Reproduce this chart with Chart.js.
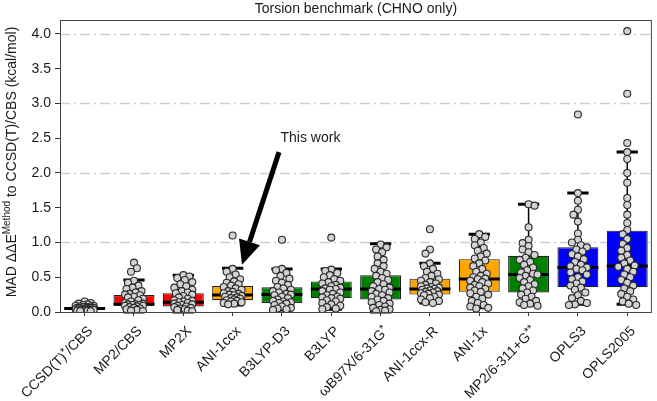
<!DOCTYPE html>
<html>
<head>
<meta charset="utf-8">
<script src="https://cdn.jsdelivr.net/npm/chart.js@4.4.1/dist/chart.umd.min.js"></script>
<style>
  html, body { margin: 0; padding: 0; background: #fff; }
  #wrap { width: 657px; height: 401px; }
</style>
</head>
<body>
<div id="wrap"><canvas id="torsion"></canvas></div>
<script>
// --- data (kcal/mol) ---
const methods = ['CCSD(T)*/CBS', 'MP2/CBS', 'MP2X', 'ANI-1ccx', 'B3LYP-D3', 'B3LYP',
                 'ωB97X/6-31G*', 'ANI-1ccx-R', 'ANI-1x', 'MP2/6-311+G**', 'OPLS3', 'OPLS2005'];
const boxColors = ['#111111', '#ff0000', '#ff0000', '#ffa500', '#008000', '#008000',
                   '#008000', '#ffa500', '#ffa500', '#008000', '#0000ff', '#0000ff'];

const q1        = [0.035, 0.09, 0.08, 0.17, 0.13, 0.20, 0.18, 0.25, 0.29, 0.28, 0.355, 0.355];
const median    = [0.05, 0.11, 0.14, 0.245, 0.25, 0.33, 0.33, 0.33, 0.475, 0.54, 0.64, 0.66];
const q3        = [0.065, 0.245, 0.27, 0.375, 0.355, 0.44, 0.53, 0.48, 0.76, 0.81, 0.93, 1.17];
const whiskerLo = [0.01, 0.0, 0.0, 0.10, 0.03, 0.04, 0.0, 0.13, 0.06, 0.10, 0.11, 0.11];
const whiskerHi = [0.10, 0.46, 0.53, 0.63, 0.62, 0.62, 0.98, 0.70, 1.12, 1.55, 1.71, 2.30];

// individual torsion profiles per method
const ptsCCSD = [0.15, 0.13, 0.12, 0.11, 0.10, 0.09, 0.09, 0.08, 0.08, 0.07, 0.07, 0.06, 0.06, 0.06, 0.05,
                 0.05, 0.05, 0.05, 0.04, 0.04, 0.04, 0.04, 0.03, 0.03, 0.03, 0.02, 0.02, 0.02, 0.01, 0.01];
const ptsMP2CBS = [0.71, 0.63, 0.58, 0.45, 0.42, 0.38, 0.35, 0.33, 0.30, 0.28, 0.26, 0.25, 0.24, 0.22, 0.21,
                   0.19, 0.17, 0.15, 0.13, 0.12, 0.11, 0.11, 0.10, 0.10, 0.09, 0.09, 0.08, 0.07, 0.06, 0.05,
                   0.04, 0.03, 0.02, 0.01];
const ptsMP2X = [0.53, 0.51, 0.49, 0.46, 0.43, 0.40, 0.37, 0.35, 0.32, 0.30, 0.28, 0.27, 0.25, 0.23, 0.21,
                 0.19, 0.17, 0.16, 0.15, 0.14, 0.13, 0.12, 0.11, 0.10, 0.09, 0.08, 0.07, 0.06, 0.05, 0.04,
                 0.03, 0.02, 0.01];
const ptsANI1ccx = [1.10, 0.62, 0.58, 0.54, 0.50, 0.47, 0.44, 0.42, 0.40, 0.38, 0.36, 0.34, 0.32, 0.30, 0.29,
                    0.27, 0.26, 0.25, 0.24, 0.23, 0.22, 0.21, 0.20, 0.19, 0.18, 0.17, 0.16, 0.15, 0.14, 0.13,
                    0.12, 0.11];
const ptsB3LYPD3 = [1.04, 0.62, 0.60, 0.56, 0.52, 0.48, 0.45, 0.42, 0.39, 0.36, 0.34, 0.32, 0.30, 0.28, 0.26,
                    0.25, 0.24, 0.22, 0.20, 0.18, 0.16, 0.15, 0.14, 0.13, 0.12, 0.10, 0.08, 0.06, 0.05, 0.04, 0.03];
const ptsB3LYP = [1.07, 0.61, 0.59, 0.56, 0.53, 0.50, 0.47, 0.45, 0.43, 0.41, 0.39, 0.37, 0.35, 0.34, 0.33,
                  0.32, 0.30, 0.28, 0.26, 0.24, 0.22, 0.21, 0.20, 0.19, 0.17, 0.15, 0.13, 0.11, 0.09, 0.07,
                  0.05, 0.04];
const ptsWB97X = [0.97, 0.93, 0.90, 0.86, 0.80, 0.75, 0.70, 0.66, 0.62, 0.58, 0.55, 0.52, 0.49, 0.46, 0.43,
                  0.40, 0.37, 0.35, 0.33, 0.32, 0.30, 0.28, 0.26, 0.24, 0.22, 0.20, 0.18, 0.16, 0.14, 0.12,
                  0.10, 0.08, 0.06, 0.04, 0.03, 0.02, 0.01];
const ptsANI1ccxR = [1.19, 0.90, 0.84, 0.70, 0.66, 0.62, 0.58, 0.55, 0.52, 0.49, 0.47, 0.45, 0.43, 0.41, 0.39,
                     0.37, 0.36, 0.35, 0.34, 0.33, 0.32, 0.31, 0.30, 0.29, 0.28, 0.27, 0.26, 0.25, 0.24, 0.22,
                     0.20, 0.18, 0.16, 0.14, 0.13];
const ptsANI1x = [1.12, 1.08, 1.05, 1.00, 0.96, 0.92, 0.88, 0.84, 0.80, 0.77, 0.74, 0.70, 0.66, 0.62, 0.58,
                  0.55, 0.52, 0.50, 0.48, 0.47, 0.45, 0.43, 0.41, 0.39, 0.37, 0.35, 0.33, 0.31, 0.29, 0.27,
                  0.25, 0.22, 0.19, 0.16, 0.13, 0.10, 0.08, 0.06, 0.05];
const ptsMP2631 = [1.55, 1.53, 1.22, 1.04, 0.99, 0.95, 0.90, 0.86, 0.82, 0.78, 0.75, 0.72, 0.68, 0.64, 0.60,
                   0.57, 0.55, 0.54, 0.52, 0.49, 0.46, 0.43, 0.40, 0.37, 0.34, 0.31, 0.28, 0.25, 0.22, 0.19,
                   0.16, 0.14, 0.12, 0.10, 0.09];
const ptsOPLS3 = [2.84, 1.71, 1.60, 1.47, 1.40, 1.30, 1.13, 1.04, 1.00, 0.96, 0.93, 0.90, 0.87, 0.83, 0.80,
                  0.76, 0.72, 0.68, 0.66, 0.64, 0.62, 0.60, 0.57, 0.54, 0.50, 0.47, 0.44, 0.41, 0.38, 0.35,
                  0.32, 0.28, 0.24, 0.20, 0.16, 0.13, 0.11, 0.10];
const ptsOPLS2005 = [4.04, 3.14, 2.43, 2.30, 2.20, 2.00, 1.86, 1.64, 1.54, 1.40, 1.28, 1.18, 1.12, 1.05, 0.98,
                     0.92, 0.88, 0.82, 0.78, 0.74, 0.70, 0.67, 0.65, 0.62, 0.58, 0.54, 0.50, 0.46, 0.42, 0.38,
                     0.34, 0.30, 0.26, 0.22, 0.18, 0.15, 0.12, 0.10];

const pointSets = [ptsCCSD, ptsMP2CBS, ptsMP2X, ptsANI1ccx, ptsB3LYPD3, ptsB3LYP,
                   ptsWB97X, ptsANI1ccxR, ptsANI1x, ptsMP2631, ptsOPLS3, ptsOPLS2005];
const yTicks = [0.0, 0.5, 1.0, 1.5, 2.0, 2.5, 3.0, 3.5, 4.0];
const gridValues = [1.0, 2.0, 3.0, 4.0];

const FONT = '"Liberation Sans", Arial, Helvetica, sans-serif';
const INK = '#1a1a1a';

// draw a string where every '*' is a raised, smaller glyph (rotated context already set)
function drawSupText(ctx, text, size, align) {
    const parts = text.split(/(\*+)/).filter(s => s.length);
    const widths = parts.map(p => {
        ctx.font = (p[0] === '*' ? Math.round(size * 0.75) : size) + 'px ' + FONT;
        return ctx.measureText(p).width;
    });
    const total = widths.reduce((a, b) => a + b, 0);
    let x = align === 'right' ? -total : -total / 2;
    ctx.textAlign = 'left';
    ctx.textBaseline = 'middle';
    parts.forEach((p, k) => {
        const sup = p[0] === '*';
        ctx.font = (sup ? Math.round(size * 0.75) : size) + 'px ' + FONT;
        ctx.fillText(p, x, sup ? -3 : 0);
        x += widths[k];
    });
}

const boxPartsPlugin = {
    id: 'boxParts',
    beforeDatasetsDraw(chart) {
        // dash-dot horizontal grid
        const { ctx, chartArea: a, scales: { y } } = chart;
        ctx.save();
        ctx.strokeStyle = '#cfcfcf';
        ctx.lineWidth = 1.5;
        ctx.setLineDash([10, 4, 2, 4]);
        gridValues.forEach(v => {
            const py = Math.round(y.getPixelForValue(v)) + 0.5;
            ctx.beginPath();
            ctx.moveTo(a.left, py);
            ctx.lineTo(a.right, py);
            ctx.stroke();
        });
        ctx.restore();
    },
    beforeDatasetDraw(chart, args) {
        if (args.index !== 1) return;       // whiskers + medians go under the points
        const { ctx, scales: { y } } = chart;
        const bars = chart.getDatasetMeta(0).data;
        ctx.save();
        ctx.strokeStyle = '#000';
        bars.forEach((bar, i) => {
            const cx = bar.x, w = bar.width, cap = w * 0.52;
            ctx.lineWidth = 1.5;
            ctx.beginPath();
            ctx.moveTo(cx, y.getPixelForValue(q3[i]));
            ctx.lineTo(cx, y.getPixelForValue(whiskerHi[i]));
            ctx.moveTo(cx, y.getPixelForValue(q1[i]));
            ctx.lineTo(cx, y.getPixelForValue(whiskerLo[i]));
            ctx.stroke();
            ctx.lineWidth = 3;
            ctx.beginPath();
            ctx.moveTo(cx - cap / 2, y.getPixelForValue(whiskerHi[i]));
            ctx.lineTo(cx + cap / 2, y.getPixelForValue(whiskerHi[i]));
            ctx.moveTo(cx - cap / 2, y.getPixelForValue(whiskerLo[i]));
            ctx.lineTo(cx + cap / 2, y.getPixelForValue(whiskerLo[i]));
            ctx.moveTo(cx - w / 2, y.getPixelForValue(median[i]));
            ctx.lineTo(cx + w / 2, y.getPixelForValue(median[i]));
            ctx.stroke();
        });
        ctx.restore();
    },
    afterDraw(chart) {
        const { ctx, chartArea: a, scales: { x, y, xs } } = chart;
        ctx.save();

        // frame round the plot
        ctx.strokeStyle = '#444';
        ctx.lineWidth = 1;
        ctx.strokeRect(a.left + 0.5, a.top + 0.5, a.right - a.left - 1, a.bottom - a.top);

        ctx.fillStyle = INK;
        // title
        ctx.font = '14px ' + FONT;
        ctx.textAlign = 'center';
        ctx.textBaseline = 'middle';
        ctx.fillText('Torsion benchmark (CHNO only)', (a.left + a.right) / 2, 9);

        // y axis title with superscript
        ctx.save();
        ctx.translate(12, 162);
        ctx.rotate(-Math.PI / 2);
        const segs = [['MAD ΔΔE', 14, 0], ['Method', 10, -5], [' to CCSD(T)/CBS (kcal/mol)', 14, 0]];
        const ws = segs.map(s => { ctx.font = s[1] + 'px ' + FONT; return ctx.measureText(s[0]).width; });
        let tx = -ws.reduce((p, q) => p + q, 0) / 2;
        ctx.textAlign = 'left';
        segs.forEach((s, k) => {
            ctx.font = s[1] + 'px ' + FONT;
            ctx.fillText(s[0], tx, s[2]);
            tx += ws[k];
        });
        ctx.restore();

        // rotated category labels
        methods.forEach((m, i) => {
            ctx.save();
            ctx.translate(x.getPixelForTick(i) + 6, a.bottom + 17);
            ctx.rotate(-Math.PI / 4);
            drawSupText(ctx, m, 14, 'right');
            ctx.restore();
        });

        // "This work" arrow
        const x0 = xs.getPixelForValue(3.94), y0 = y.getPixelForValue(2.30);
        const x1 = xs.getPixelForValue(3.19), y1 = y.getPixelForValue(0.68);
        const ang = Math.atan2(y1 - y0, x1 - x0), head = 24, half = 11;
        const bx = x1 - head * Math.cos(ang), by = y1 - head * Math.sin(ang);
        ctx.strokeStyle = '#000';
        ctx.fillStyle = '#000';
        ctx.lineWidth = 5;
        ctx.beginPath();
        ctx.moveTo(x0, y0);
        ctx.lineTo(bx, by);
        ctx.stroke();
        ctx.beginPath();
        ctx.moveTo(x1, y1);
        ctx.lineTo(bx + half * Math.sin(ang), by - half * Math.cos(ang));
        ctx.lineTo(bx - half * Math.sin(ang), by + half * Math.cos(ang));
        ctx.closePath();
        ctx.fill();
        ctx.fillStyle = INK;
        ctx.font = '14px ' + FONT;
        ctx.textAlign = 'left';
        ctx.textBaseline = 'middle';
        ctx.fillText('This work', xs.getPixelForValue(3.97), y.getPixelForValue(2.50));

        ctx.restore();
    }
};

const ctx = document.getElementById('torsion').getContext('2d');
const chart = new Chart(ctx, {
    type: 'bar',
    data: {
        labels: methods,
        datasets: [{
            type: 'bar',
            data: methods.map((_, i) => [q1[i], q3[i]]),
            backgroundColor: boxColors,
            borderColor: '#222',
            borderWidth: 1.2,
            borderSkipped: false,
            grouped: false,
            barPercentage: 0.83,
            categoryPercentage: 1.0,
            order: 2
        }, {
            type: 'scatter',
            xAxisID: 'xs',
            data: [],
            pointRadius: 3.5,
            pointBackgroundColor: '#d3d3d3',
            pointBorderColor: '#2a2a2a',
            pointBorderWidth: 1.1,
            order: 1
        }]
    },
    options: {
        responsive: true,
        maintainAspectRatio: false,
        animation: false,
        layout: { padding: { top: 20, right: 2, left: 0, bottom: 0 } },
        plugins: { legend: { display: false }, tooltip: { enabled: false }, title: { display: false } },
        scales: {
            x: {
                type: 'category',
                offset: true,
                grid: { display: true, drawOnChartArea: false, offset: false, tickLength: 4, tickColor: '#333' },
                border: { display: false },
                ticks: { display: false },
                afterFit: (s) => { s.height = 89; }
            },
            // hidden linear twin of the category axis, for the jittered points
            xs: { type: 'linear', display: false, offset: false, min: -0.5, max: 11.5,
                  grid: { offset: false } },
            y: {
                min: 0, max: 4.2,
                afterBuildTicks: (s) => { s.ticks = yTicks.map(v => ({ value: v })); },
                ticks: { color: INK, font: { size: 14, family: FONT }, padding: 4,
                         callback: (v) => Number(v).toFixed(1) },
                grid: { drawOnChartArea: false, tickLength: 5, tickColor: '#333' },
                border: { display: false },
                afterFit: (s) => { s.width = 60; }
            }
        }
    },
    plugins: [boxPartsPlugin]
});

// simple swarm placement of the points, using the chart's own scales
function layoutPoints() {
    const y = chart.scales.y, xs = chart.scales.xs;
    const pxPerUnit = xs.getPixelForValue(1) - xs.getPixelForValue(0);
    const pts = [];
    pointSets.forEach((vals, i) => {
        const placed = [];
        vals.slice().sort((a, b) => b - a).forEach((v, k) => {
            const py = y.getPixelForValue(v);
            let best = 0, bestGap = -1, done = false;
            for (let s = 0; s <= 6 && !done; s++) {
                for (const sign of (k % 2 ? [1, -1] : [-1, 1])) {
                    const dx = sign * s * 1.5;
                    const gap = Math.min(Infinity, ...placed.map(p => Math.hypot(p.dx - dx, p.py - py)));
                    if (gap >= 6) { best = dx; done = true; break; }
                    if (gap > bestGap) { bestGap = gap; best = dx; }
                }
            }
            placed.push({ dx: best, py });
            pts.push({ x: i + best / pxPerUnit, y: v });
        });
    });
    chart.data.datasets[1].data = pts;
    chart.update('none');
}
layoutPoints();
</script>
</body>
</html>
